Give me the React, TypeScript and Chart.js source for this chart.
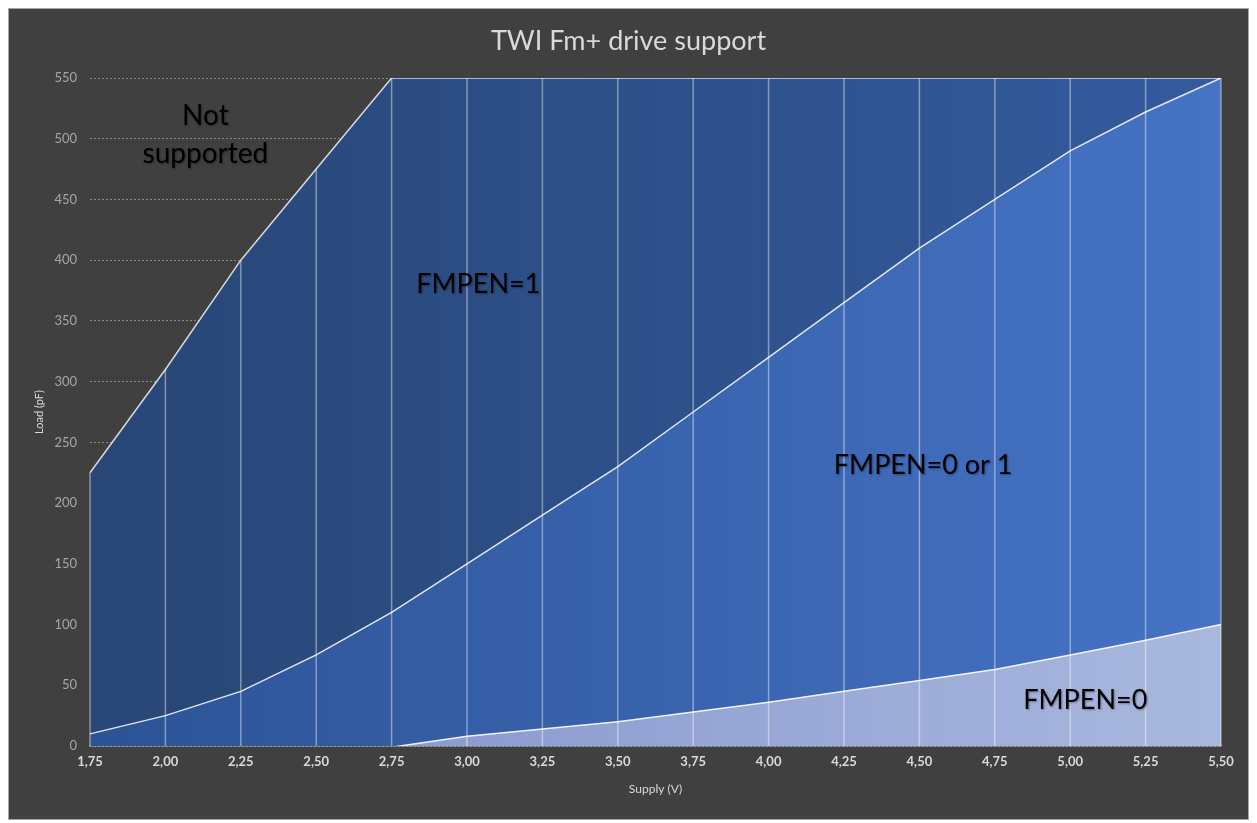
import React, { useEffect, useRef } from "react";
import { Chart, registerables } from "chart.js";

Chart.register(...registerables);

const chartTitle = "TWI Fm+ drive support";
const supplyLabels = ["1,75", "2,00", "2,25", "2,50", "2,75", "3,00", "3,25", "3,50", "3,75", "4,00", "4,25", "4,50", "4,75", "5,00", "5,25", "5,50"];
const fmpen1Top = [225, 310, 400, 475, 550, 550, 550, 550, 550, 550, 550, 550, 550, 550, 550, 550];
const fmpen01Top = [10, 25, 45, 75, 110, 150, 190, 230, 275, 320, 365, 410, 450, 490, 522, 550];
const fmpen0Top = [null, null, null, null, -1, 8, 14, 20, 28, 36, 45, 54, 63, 75, 87, 100];
const yTicksMax = 550;
const yTicksStep = 50;

const annotations = [
  { lines: ["Not", "supported"], xIndex: 1.53, yValue: 503, size: 28 },
  { lines: ["FMPEN=1"], xIndex: 5.15, yValue: 380, size: 27 },
  { lines: ["FMPEN=0 or 1"], xIndex: 11.05, yValue: 231, size: 27 },
  { lines: ["FMPEN=0"], xIndex: 13.2, yValue: 38, size: 27 },
];

const FONT = "Lato, 'Open Sans', 'DejaVu Sans', sans-serif";

function gradient(from: string, to: string) {
  return (ctx: any) => {
    const chart = ctx.chart;
    const area = chart.chartArea;
    if (!area) return from;
    const g = chart.ctx.createLinearGradient(area.left, 0, area.right, 0);
    g.addColorStop(0, from);
    g.addColorStop(1, to);
    return g;
  };
}

const overlay = {
  id: "overlay",
  afterDatasetsDraw(chart: any) {
    const { ctx, chartArea, scales } = chart;
    const x = scales.x;
    const y = scales.y;
    ctx.save();
    ctx.strokeStyle = "rgba(255,255,255,0.42)";
    ctx.lineWidth = 1.5;
    for (let i = 0; i < supplyLabels.length; i++) {
      const px = x.getPixelForValue(i);
      const top = y.getPixelForValue(fmpen1Top[i]);
      ctx.beginPath();
      ctx.moveTo(px, top);
      ctx.lineTo(px, chartArea.bottom);
      ctx.stroke();
    }
    ctx.restore();
  },
  afterDraw(chart: any) {
    const { ctx, scales, width } = chart;
    ctx.save();
    ctx.textAlign = "center";
    ctx.textBaseline = "middle";
    ctx.fillStyle = "#d9d9d9";
    ctx.font = `27px ${FONT}`;
    ctx.fillText(chartTitle, width / 2, 32);

    ctx.fillStyle = "#000000";
    ctx.shadowColor = "rgba(0,0,0,0.35)";
    ctx.shadowBlur = 2;
    ctx.shadowOffsetX = 1;
    ctx.shadowOffsetY = 1;
    for (const a of annotations) {
      const px = scales.x.getPixelForValue(a.xIndex);
      const py = scales.y.getPixelForValue(a.yValue);
      ctx.font = `${a.size}px ${FONT}`;
      const lh = a.size * 1.33;
      const startY = py - ((a.lines.length - 1) * lh) / 2;
      a.lines.forEach((t, k) => ctx.fillText(t, px, startY + k * lh));
    }
    ctx.restore();
  },
};

export default function App() {
  const ref = useRef<HTMLCanvasElement>(null);
  useEffect(() => {
    if (!ref.current) return;
    const chart = new Chart(ref.current, {
      type: "line",
      data: {
        labels: supplyLabels,
        datasets: [
          {
            label: "FMPEN=0",
            data: fmpen0Top as any,
            fill: "origin",
            backgroundColor: gradient("#7f8fc9", "#a9b8de"),
            borderColor: "rgba(255,255,255,0.9)",
            borderWidth: 1.5,
            pointRadius: 0,
            tension: 0,
          },
          {
            label: "FMPEN=0 or 1",
            data: fmpen01Top,
            fill: "origin",
            backgroundColor: gradient("#2d5396", "#4573c5"),
            borderColor: "rgba(255,255,255,0.85)",
            borderWidth: 1.5,
            pointRadius: 0,
            tension: 0,
          },
          {
            label: "FMPEN=1",
            data: fmpen1Top,
            fill: "origin",
            backgroundColor: gradient("#284676", "#345b9f"),
            borderColor: "rgba(255,255,255,0.8)",
            borderWidth: 1.5,
            pointRadius: 0,
            tension: 0,
          },
        ],
      },
      options: {
        animation: false,
        responsive: true,
        maintainAspectRatio: false,
        layout: { padding: { left: 0, right: 27, top: 69, bottom: 0 } },
        plugins: {
          legend: { display: false },
          tooltip: { enabled: false },
          title: { display: false },
        },
        scales: {
          x: {
            type: "category",
            offset: false,
            grid: { display: false, drawTicks: false },
            border: { display: true, color: "#a6a6a6", width: 1.5 },
            ticks: {
              color: "#d9d9d9",
              font: { family: FONT, size: 13, weight: "bold" },
              padding: 8,
              maxRotation: 0,
              autoSkip: false,
            },
            title: {
              display: true,
              text: "Supply (V)",
              color: "#d9d9d9",
              font: { family: FONT, size: 12 },
              padding: { top: 0, bottom: 23 },
            },
            afterFit(scale: any) {
              scale.height = 73;
            },
          },
          y: {
            min: 0,
            max: yTicksMax,
            grid: { color: "#8a8a8a", lineWidth: 1, drawTicks: false },
            border: { display: false, dash: [2, 2] },
            ticks: {
              stepSize: yTicksStep,
              color: "#a6a6a6",
              font: { family: FONT, size: 13 },
              padding: 13,
            },
            title: {
              display: true,
              text: "Load (pF)",
              color: "#d9d9d9",
              font: { family: FONT, size: 11 },
              padding: { top: 24, bottom: 0 },
            },
            afterFit(scale: any) {
              scale.width = 81;
            },
          },
        },
      },
      plugins: [overlay],
    });
    return () => chart.destroy();
  }, []);
  return (
    <div
      style={{
        width: 1241,
        height: 812,
        boxSizing: "border-box",
        border: "1px solid #a6a6a6",
        background: "#404040",
      }}
    >
      <div style={{ position: "relative", width: 1239, height: 810 }}>
        <canvas ref={ref} />
      </div>
    </div>
  );
}
